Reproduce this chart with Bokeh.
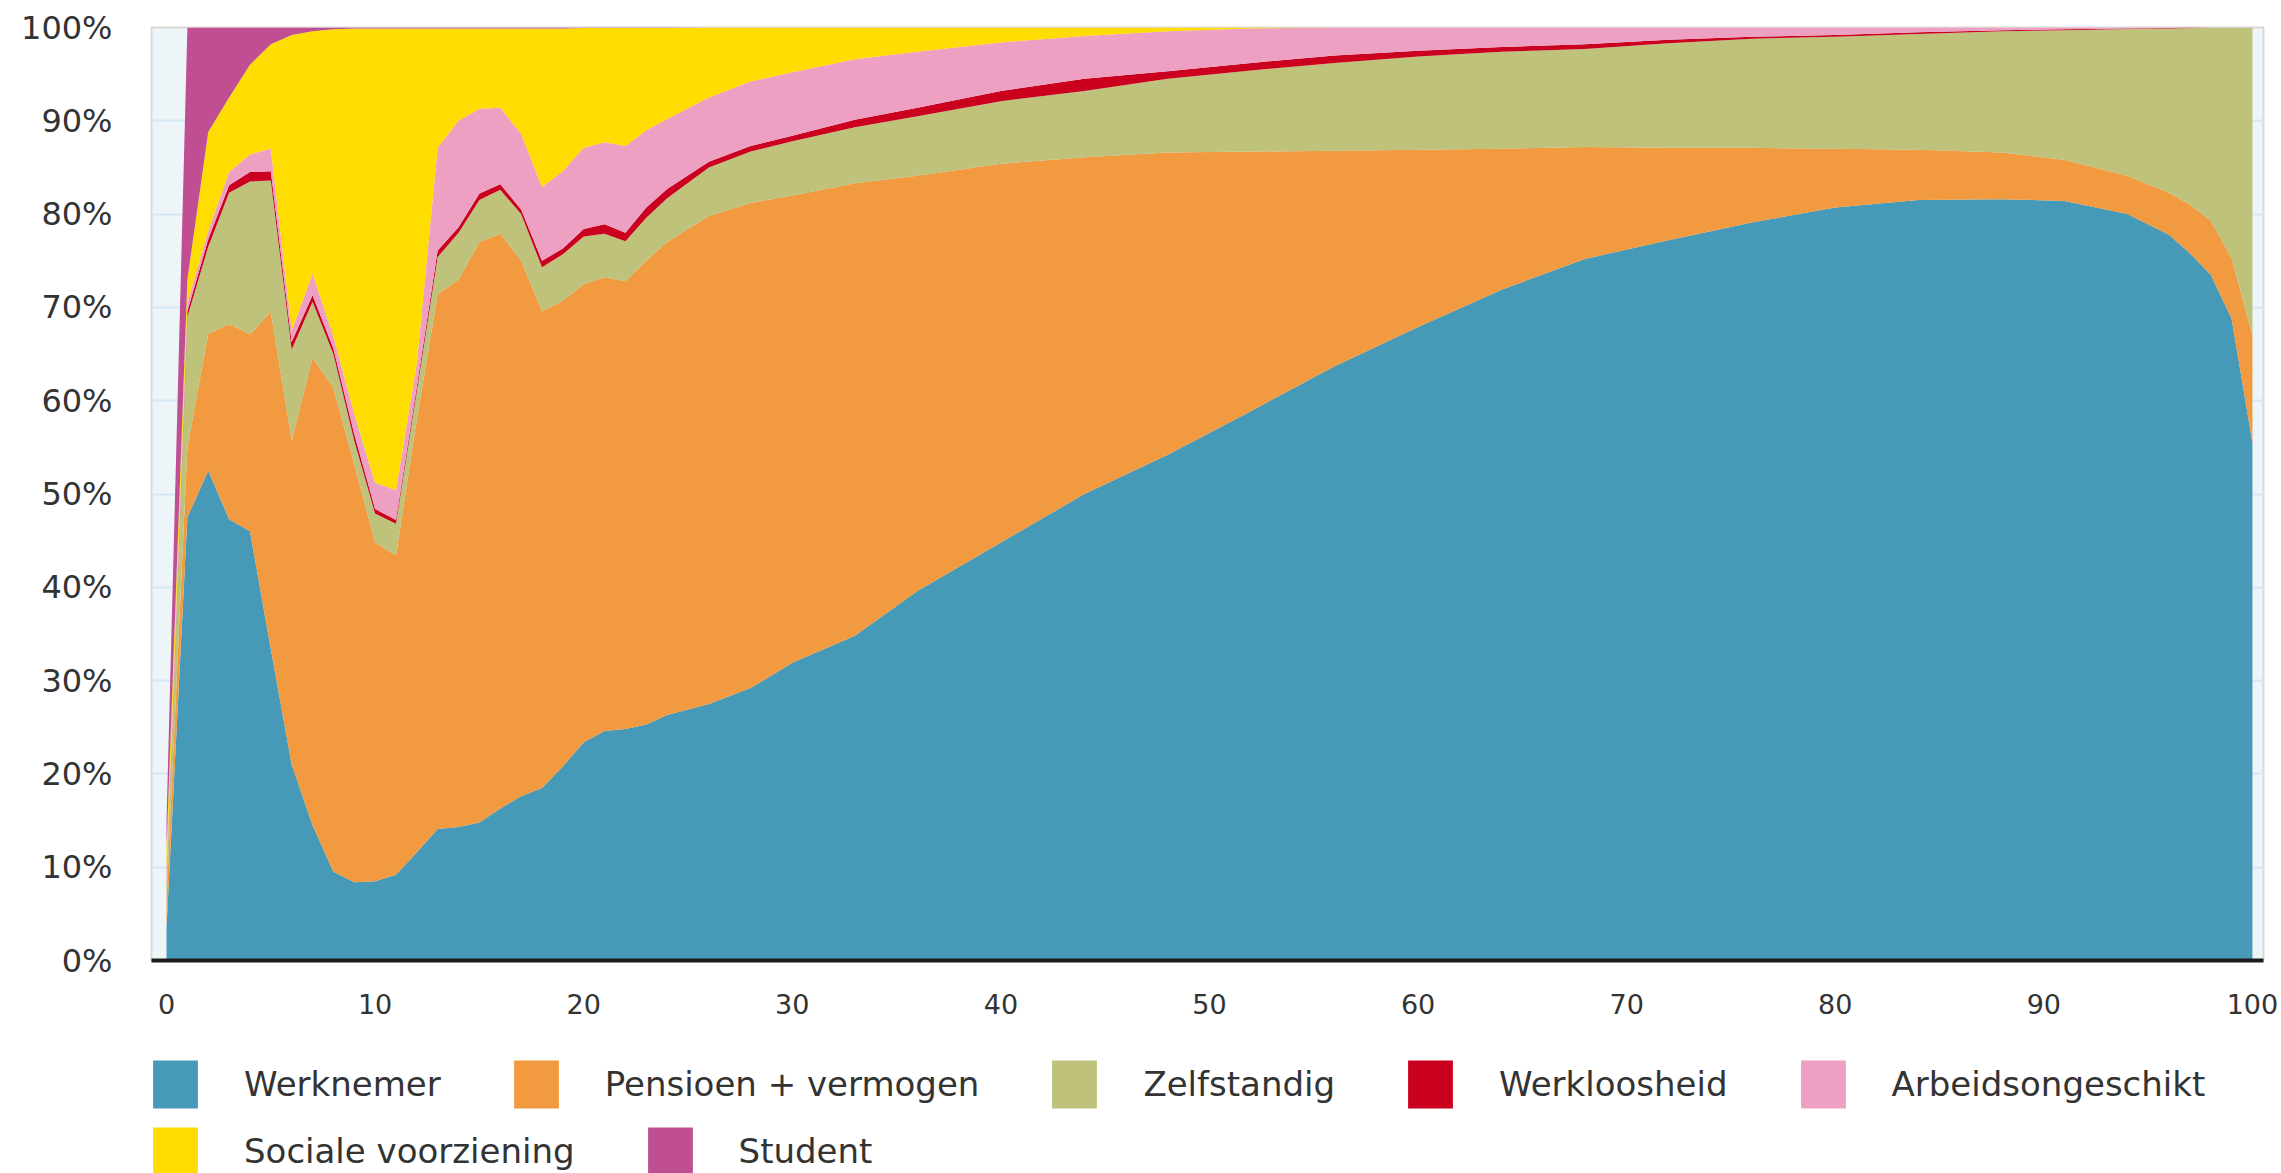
from bokeh.plotting import figure
from bokeh.layouts import column
from bokeh.models import (ColumnDataSource, Legend, LegendItem, FixedTicker,
                          PrintfTickFormatter, Range1d)
from bokeh.embed import file_html
from bokeh.resources import INLINE

# percentile (x) positions
x = [0, 1, 2, 3, 4, 5, 6, 7, 8, 9, 10, 11, 12, 13, 14, 15, 16, 17, 18, 19,
     20, 21, 22, 23, 24, 26, 28, 30, 33, 36, 40, 44, 48, 52, 56, 60, 64, 68,
     72, 76, 80, 84, 88, 91, 94, 96, 97, 98, 99, 100]

werknemer = [3.5, 47.5, 52.5, 47.3, 46.0, 33.4, 21.0, 14.5, 9.5, 8.4,
             8.5, 9.2, 11.6, 14.1, 14.3, 14.8, 16.3, 17.6, 18.5, 20.8,
             23.4, 24.6, 24.8, 25.3, 26.3, 27.5, 29.2, 31.9, 34.8, 39.6,
             44.8, 50.0, 54.2, 58.9, 63.7, 67.9, 71.9, 75.2, 77.2, 79.1,
             80.7, 81.5, 81.6, 81.4, 80.0, 77.8, 75.8, 73.5, 68.8, 55.5]
pensioen = [3.0, 7.5, 14.7, 20.9, 21.1, 36.1, 34.7, 50.1, 51.9, 44.8,
            36.3, 34.2, 46.4, 57.3, 58.7, 62.2, 61.6, 57.4, 51.1, 49.9,
            49.1, 48.6, 48.0, 49.7, 50.7, 52.3, 52.0, 50.1, 48.5, 44.5,
            40.6, 36.1, 32.4, 27.8, 23.1, 19.0, 15.1, 12.0, 9.9, 8.0,
            6.3, 5.4, 5.0, 4.4, 4.1, 4.5, 5.2, 5.8, 6.5, 11.5]
zelfstandig = [1.5, 14.0, 9.3, 14.1, 16.4, 14.1, 9.8, 6.0, 3.6, 2.5,
               3.1, 3.4, 3.0, 4.0, 5.0, 4.5, 4.7, 5.0, 4.7, 5.0,
               5.1, 4.7, 4.3, 4.6, 4.7, 5.2, 5.5, 5.8, 6.0, 6.4,
               6.7, 7.1, 7.9, 8.7, 9.4, 10.0, 10.4, 10.5, 11.2, 11.7,
               12.0, 12.4, 13.0, 13.9, 15.75, 17.6, 18.95, 20.7, 24.7, 33.0]
werkloosheid = [0.3, 0.6, 0.8, 0.8, 1.0, 1.0, 0.8, 0.7, 0.6, 0.7,
                0.5, 0.4, 0.5, 0.7, 0.6, 0.7, 0.6, 0.5, 0.7, 0.6,
                0.8, 1.0, 0.9, 1.1, 1.0, 0.6, 0.6, 0.6, 0.8, 0.9,
                1.1, 1.3, 0.8, 0.8, 0.8, 0.6, 0.5, 0.5, 0.4, 0.2,
                0.2, 0.2, 0.1, 0.1, 0.05, 0.05, 0.05, 0.0, 0.0, 0.0]
arbeidsongeschikt = [1.2, 0.9, 0.9, 1.4, 1.9, 2.4, 1.2, 2.3, 1.3, 2.2,
                     2.8, 3.2, 2.5, 11.0, 11.4, 9.1, 8.2, 8.1, 7.9, 8.3,
                     8.7, 8.8, 9.3, 8.3, 7.5, 6.9, 6.9, 6.8, 6.5, 6.0,
                     5.2, 4.6, 4.3, 3.7, 3.0, 2.5, 2.1, 1.8, 1.3, 1.0,
                     0.8, 0.5, 0.3, 0.2, 0.1, 0.05, 0.0, 0.0, 0.0, 0.0]
sociale = [2.5, 2.5, 10.6, 8.0, 9.6, 11.2, 31.7, 26.0, 32.9, 41.3,
           48.7, 49.5, 35.9, 12.8, 9.9, 8.6, 8.5, 11.3, 17.0, 15.3,
           12.85, 12.25, 12.65, 10.95, 9.75, 7.5, 5.8, 4.8, 3.4, 2.6,
           1.6, 0.9, 0.4, 0.1, 0.0, 0.0, 0.0, 0.0, 0.0, 0.0,
           0.0, 0.0, 0.0, 0.0, 0.0, 0.0, 0.0, 0.0, 0.0, 0.0]
student = [3.0, 27.0, 11.2, 7.5, 4.0, 1.8, 0.8, 0.4, 0.2, 0.1,
           0.1, 0.1, 0.1, 0.1, 0.1, 0.1, 0.1, 0.1, 0.1, 0.1,
           0.05, 0.05, 0.05, 0.05, 0.05, 0.0, 0.0, 0.0, 0.0, 0.0,
           0.0, 0.0, 0.0, 0.0, 0.0, 0.0, 0.0, 0.0, 0.0, 0.0,
           0.0, 0.0, 0.0, 0.0, 0.0, 0.0, 0.0, 0.0, 0.0, 0.0]

labels = ["Werknemer", "Pensioen + vermogen", "Zelfstandig", "Werkloosheid",
          "Arbeidsongeschikt", "Sociale voorziening", "Student"]
keys = ["werknemer", "pensioen", "zelfstandig", "werkloosheid",
        "arbeidsongeschikt", "sociale", "student"]
colors = ["#4799B8", "#F29A40", "#BEC27A", "#CB001E", "#EEA0C3", "#FFDD00", "#BF4E92"]

x_ticks = [0, 10, 20, 30, 40, 50, 60, 70, 80, 90, 100]
y_ticks = [0, 10, 20, 30, 40, 50, 60, 70, 80, 90, 100]

source = ColumnDataSource(dict(x=x, werknemer=werknemer, pensioen=pensioen,
                               zelfstandig=zelfstandig, werkloosheid=werkloosheid,
                               arbeidsongeschikt=arbeidsongeschikt, sociale=sociale,
                               student=student))

FONT = "DejaVu Sans"
TXT = "#333333"
W = 2281
H_MAIN = 1038
H_LEG = 135

p = figure(width=W, height=H_MAIN, x_range=Range1d(-0.72, 100.53),
           y_range=Range1d(0, 100), output_backend="svg", toolbar_location=None,
           min_border_left=151, min_border_right=18, min_border_top=27,
           min_border_bottom=H_MAIN - 960)
p.background_fill_color = "#EDF5F9"
p.border_fill_color = "white"
p.outline_line_color = "#dcd8d8"
p.outline_line_width = 2

renderers = p.varea_stack(keys, x="x", color=colors, source=source)

# axes
p.xaxis.ticker = FixedTicker(ticks=x_ticks)
p.xaxis.axis_line_color = "#1b1b1b"
p.xaxis.axis_line_width = 4
p.xaxis.major_tick_line_color = None
p.xaxis.minor_tick_line_color = None
p.xaxis.major_label_standoff = 27
p.xaxis.major_label_text_font = FONT
p.xaxis.major_label_text_font_size = "27px"
p.xaxis.major_label_text_color = TXT

p.yaxis.ticker = FixedTicker(ticks=y_ticks)
p.yaxis.formatter = PrintfTickFormatter(format="%d%%")
p.yaxis.axis_line_color = None
p.yaxis.major_tick_line_color = None
p.yaxis.minor_tick_line_color = None
p.yaxis.major_label_standoff = 33
p.yaxis.major_label_text_font = FONT
p.yaxis.major_label_text_font_size = "32px"
p.yaxis.major_label_text_color = TXT

p.xgrid.visible = False
p.ygrid.ticker = FixedTicker(ticks=y_ticks)
p.ygrid.grid_line_color = "#d3e8f4"
p.ygrid.grid_line_width = 2

# legend panel (separate figure directly under the chart)
pl = figure(width=W, height=H_LEG, x_range=Range1d(0, 1), y_range=Range1d(0, 1),
            output_backend="svg", toolbar_location=None,
            x_axis_location=None, y_axis_location=None,
            min_border_left=0, min_border_right=0, min_border_top=0,
            min_border_bottom=0)
pl.outline_line_color = None
pl.xgrid.visible = False
pl.ygrid.visible = False
pl.background_fill_color = "white"
pl.border_fill_color = "white"

# legend swatch renderers (kept outside the visible range of the legend panel)
swatches = [pl.varea(x=[-10, -9], y1=[0, 0], y2=[1, 1], color=c) for c in colors]
items = [LegendItem(label=l, renderers=[r]) for l, r in zip(labels, swatches)]


def make_legend(its, loc):
    return Legend(items=its, orientation="horizontal", location=loc,
                  margin=0, padding=0, spacing=67, glyph_width=56, glyph_height=60,
                  label_height=60, label_standoff=41, label_text_font=FONT,
                  label_text_font_size="34px", label_text_color=TXT,
                  border_line_color=None, background_fill_alpha=0)


pl.add_layout(make_legend(items[:5], (-4, 59)))
pl.add_layout(make_legend(items[5:], (-4, -8)))

layout = column(p, pl, spacing=0)
open("out.html", "w").write(file_html(layout, INLINE))
